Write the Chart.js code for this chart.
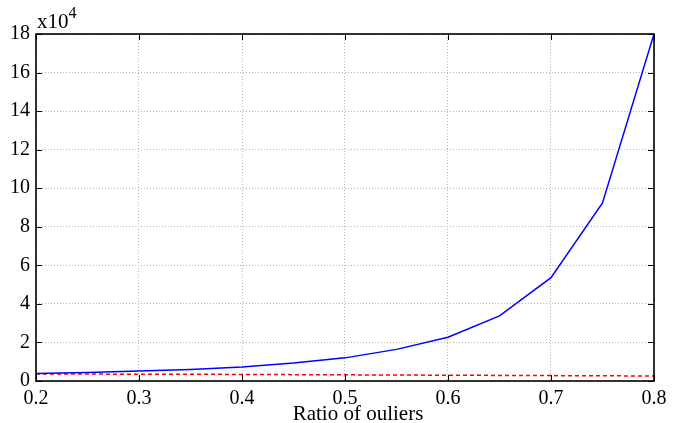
<!DOCTYPE html>
<html>
<head>
<meta charset="utf-8">
<script src="https://cdn.jsdelivr.net/npm/chart.js@4"></script>
<style>
  html, body { margin: 0; padding: 0; background: #fff; }
  #wrap { width: 691px; height: 423px; }
</style>
</head>
<body>
<div id="wrap"><canvas id="grafico"></canvas></div>
<script>
// dados (valores em x10^4)
const ratios = [0.2, 0.25, 0.3, 0.35, 0.4, 0.45, 0.5, 0.55, 0.6, 0.65, 0.7, 0.75, 0.8];
const blueValues = [0.39, 0.44, 0.52, 0.6, 0.73, 0.93, 1.2, 1.64, 2.27, 3.38, 5.36, 9.24, 18.0];
const redValues = [0.37, 0.36, 0.35, 0.35, 0.34, 0.33, 0.32, 0.31, 0.30, 0.29, 0.28, 0.27, 0.26];
const xTicks = [0.2, 0.3, 0.4, 0.5, 0.6, 0.7, 0.8];
const yTicks = [0, 2, 4, 6, 8, 10, 12, 14, 16, 18];
const xTitle = "Ratio of ouliers";

const serif = "'Liberation Serif', 'DejaVu Serif', serif";

// moldura + marcas de escala para dentro (estilo matlab)
const framePlugin = {
    id: "frame",
    afterDatasetsDraw(chart) {
        const { ctx, chartArea: a, scales } = chart;
        ctx.save();
        ctx.strokeStyle = "#000";
        ctx.lineWidth = 1;
        const tl = 6;
        ctx.beginPath();
        xTicks.forEach(v => {
            const x = Math.round(scales.x.getPixelForValue(v)) + 0.5;
            ctx.moveTo(x, a.bottom); ctx.lineTo(x, a.bottom - tl);
            ctx.moveTo(x, a.top); ctx.lineTo(x, a.top + tl);
        });
        yTicks.forEach(v => {
            const y = Math.round(scales.y.getPixelForValue(v)) + 0.5;
            ctx.moveTo(a.left, y); ctx.lineTo(a.left + tl, y);
            ctx.moveTo(a.right, y); ctx.lineTo(a.right - tl, y);
        });
        ctx.stroke();
        ctx.lineWidth = 1.6;
        ctx.strokeRect(a.left, a.top, a.right - a.left, a.bottom - a.top);

        ctx.fillStyle = "#000";
        ctx.textBaseline = "alphabetic";

        // multiplicador do eixo y
        ctx.textAlign = "left";
        ctx.font = "21px " + serif;
        ctx.fillText("x10", a.left + 1, a.top - 6);
        const w = ctx.measureText("x10").width;
        ctx.font = "16px " + serif;
        ctx.fillText("4", a.left + 1 + w, a.top - 16);

        // título do eixo x (um pouco à direita do centro, como no original)
        ctx.textAlign = "center";
        ctx.font = "21px " + serif;
        ctx.fillText(xTitle, (a.left + a.right) / 2 + 13, 420);
        ctx.restore();
    }
};

document.addEventListener("DOMContentLoaded", function () {

    const ctx = document.getElementById("grafico");

    new Chart(ctx, {
        type: "line",
        data: {
            datasets: [{
                label: "blue",
                data: ratios.map((r, i) => ({ x: r, y: blueValues[i] })),
                borderColor: "#0000ff",
                borderWidth: 1.5,
                pointRadius: 0,
                tension: 0,
                fill: false
            }, {
                label: "red",
                data: ratios.map((r, i) => ({ x: r, y: redValues[i] })),
                borderColor: "#ff0000",
                borderWidth: 1.5,
                borderDash: [4, 3],
                pointRadius: 0,
                tension: 0,
                fill: false
            }]
        },
        options: {
            responsive: true,
            maintainAspectRatio: false,
            animation: false,
            layout: {
                padding: { top: 34, right: 37, left: 0, bottom: 0 }
            },
            plugins: {
                legend: { display: false },
                tooltip: { enabled: false }
            },
            scales: {
                x: {
                    type: "linear",
                    min: 0.2,
                    max: 0.8,
                    afterBuildTicks: s => { s.ticks = xTicks.map(v => ({ value: v })); },
                    afterFit: s => { s.height = 42; },
                    border: { display: false, dash: [1, 2] },
                    grid: { color: "#b4b4b4", drawTicks: false, lineWidth: 1 },
                    ticks: {
                        color: "#000",
                        padding: 6,
                        font: { family: serif, size: 20 },
                        callback: v => v.toFixed(1)
                    }
                },
                y: {
                    min: 0,
                    max: 18,
                    afterBuildTicks: s => { s.ticks = yTicks.map(v => ({ value: v })); },
                    afterFit: s => { s.width = 36; },
                    border: { display: false, dash: [1, 2] },
                    grid: { color: "#b4b4b4", drawTicks: false, lineWidth: 1 },
                    ticks: {
                        color: "#000",
                        padding: 6,
                        font: { family: serif, size: 20 }
                    }
                }
            }
        },
        plugins: [framePlugin]
    });

});
</script>
</body>
</html>
